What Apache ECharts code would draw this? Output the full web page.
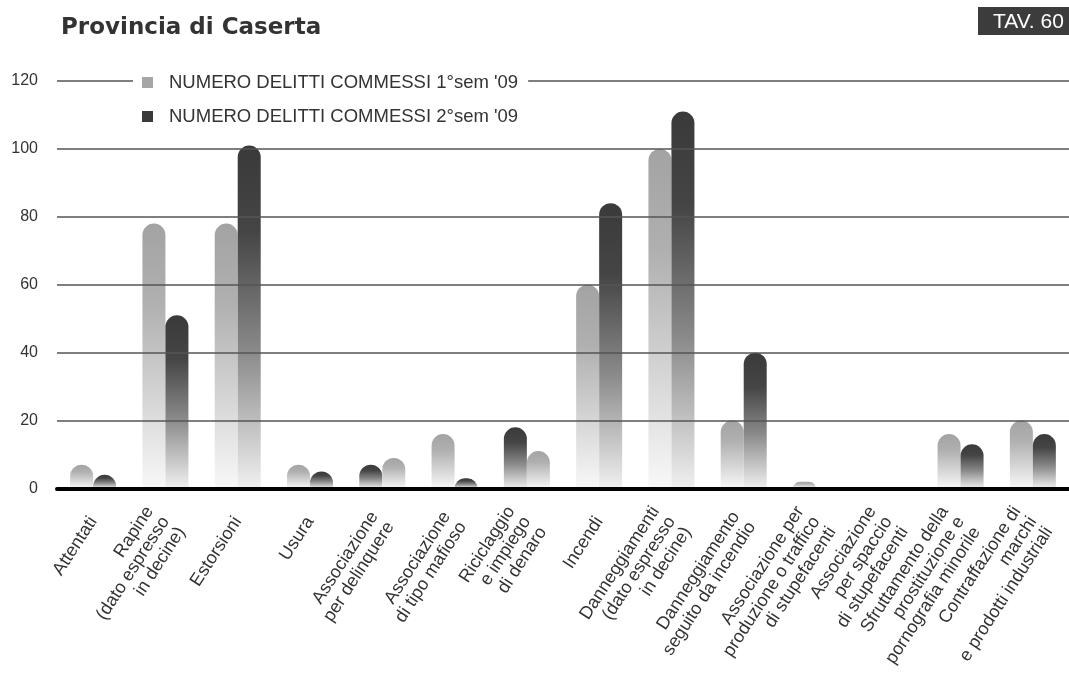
<!DOCTYPE html>
<html>
<head>
<meta charset="utf-8">
<script src="https://cdn.jsdelivr.net/npm/echarts@6/dist/echarts.min.js"></script>
<style>
  html, body { margin: 0; padding: 0; background: #fff; }
  #chart { width: 1069px; height: 673px; }
</style>
</head>
<body>
<div id="chart"></div>
<script>
// Crime categories (axis labels, multi-line)
const categories = [
  'Attentati',
  'Rapine\n(dato espresso\nin decine)',
  'Estorsioni',
  'Usura',
  'Associazione\nper delinquere',
  'Associazione\ndi tipo mafioso',
  'Riciclaggio\ne impiego\ndi denaro',
  'Incendi',
  'Danneggiamenti\n(dato espresso\nin decine)',
  'Danneggiamento\nseguito da incendio',
  'Associazione per\nproduzione o traffico\ndi stupefacenti',
  'Associazione\nper spaccio\ndi stupefacenti',
  'Sfruttamento della\nprostituzione e\npornografia minorile',
  'Contraffazione di\nmarchi\ne prodotti industriali'
];

// Offences committed, first and second half of 2009
const sem1 = [7, 78, 78, 7, 9, 16, 11, 60, 100, 20, 2, 0, 16, 20];
const sem2 = [4, 51, 101, 5, 7, 3, 18, 84, 111, 40, 0, 0, 13, 16];

// Categories where the 2nd-half bar is placed in the left slot
const secondFirst = [4, 6];

const seriesNames = ["NUMERO DELITTI COMMESSI 1°sem '09", "NUMERO DELITTI COMMESSI 2°sem '09"];
const yTicks = [0, 20, 40, 60, 80, 100, 120];

const FONT = '"Liberation Sans", Arial, Helvetica, sans-serif';

const chart = echarts.init(document.getElementById('chart'), null, { renderer: 'canvas' });

const lightGrad = new echarts.graphic.LinearGradient(0, 0, 0, 1, [
  { offset: 0, color: '#a3a3a3' },
  { offset: 0.3, color: '#b0b0b0' },
  { offset: 1, color: '#f8f8f8' }
]);
const darkGrad = new echarts.graphic.LinearGradient(0, 0, 0, 1, [
  { offset: 0, color: '#3a3a3a' },
  { offset: 0.25, color: '#454545' },
  { offset: 0.6, color: '#8a8a8a' },
  { offset: 1, color: '#f0f0f0' }
]);

const leftSlot = categories.map((_, i) =>
  secondFirst.includes(i) ? { value: sem2[i], itemStyle: { color: darkGrad } } : sem1[i]);
const rightSlot = categories.map((_, i) =>
  secondFirst.includes(i) ? { value: sem1[i], itemStyle: { color: lightGrad } } : sem2[i]);

const barRadius = [11.5, 11.5, 0, 0];

chart.setOption({
  animation: false,
  backgroundColor: '#fff',
  grid: { left: 57, top: 81, width: 1023, height: 409, containLabel: false },
  legend: {
    orient: 'vertical',
    left: 133,
    top: 69,
    padding: [4, 10, 4, 9],
    backgroundColor: '#fff',
    itemWidth: 11,
    itemHeight: 11,
    itemGap: 15,
    icon: 'rect',
    z: 6,
    textStyle: { fontFamily: FONT, fontSize: 18.5, color: '#333', padding: [0, 0, 0, 11] },
    data: [
      { name: seriesNames[0], itemStyle: { color: '#a6a6a6' } },
      { name: seriesNames[1], itemStyle: { color: '#3a3a3a' } }
    ]
  },
  xAxis: [
    {
      type: 'category',
      data: categories,
      position: 'bottom',
      z: 4,
      axisLine: { lineStyle: { color: '#000', width: 4 } },
      axisTick: { length: 5, lineStyle: { color: '#000', width: 1.5 } },
      axisLabel: {
        interval: 0,
        rotate: 57,
        margin: 30,
        fontFamily: FONT,
        fontSize: 18,
        lineHeight: 19,
        color: '#333'
      }
    },
    {
      type: 'category',
      data: categories,
      position: 'bottom',
      z: 4,
      axisLine: { show: false },
      axisTick: { inside: true, length: 7, lineStyle: { color: '#000', width: 1.5 } },
      axisLabel: { show: false }
    }
  ],
  yAxis: {
    type: 'value',
    min: yTicks[0],
    max: yTicks[yTicks.length - 1],
    interval: yTicks[1] - yTicks[0],
    z: 3,
    axisLine: { show: false },
    axisTick: { show: false },
    axisLabel: { margin: 19, fontFamily: FONT, fontSize: 16, color: '#333' },
    splitLine: { lineStyle: { color: '#555', width: 1.5 } }
  },
  series: [
    {
      name: seriesNames[0],
      type: 'bar',
      xAxisIndex: 0,
      barWidth: 23,
      barGap: '0%',
      itemStyle: { color: lightGrad, borderRadius: barRadius },
      data: leftSlot
    },
    {
      name: seriesNames[1],
      type: 'bar',
      xAxisIndex: 0,
      barWidth: 23,
      barGap: '0%',
      itemStyle: { color: darkGrad, borderRadius: barRadius },
      data: rightSlot
    }
  ],
  graphic: [
    {
      type: 'text',
      x: 61,
      y: 28,
      style: {
        text: 'Provincia di Caserta',
        font: 'bold 23px "DejaVu Sans", sans-serif',
        fill: '#333',
        verticalAlign: 'middle'
      }
    },
    {
      type: 'rect',
      shape: { x: 978, y: 7, width: 100, height: 28 },
      style: { fill: '#3c3c3c' }
    },
    {
      type: 'text',
      x: 993,
      y: 22,
      style: {
        text: 'TAV. 60',
        font: '21px "Liberation Sans", Arial, sans-serif',
        fill: '#fff',
        verticalAlign: 'middle'
      }
    }
  ]
});
</script>
</body>
</html>
